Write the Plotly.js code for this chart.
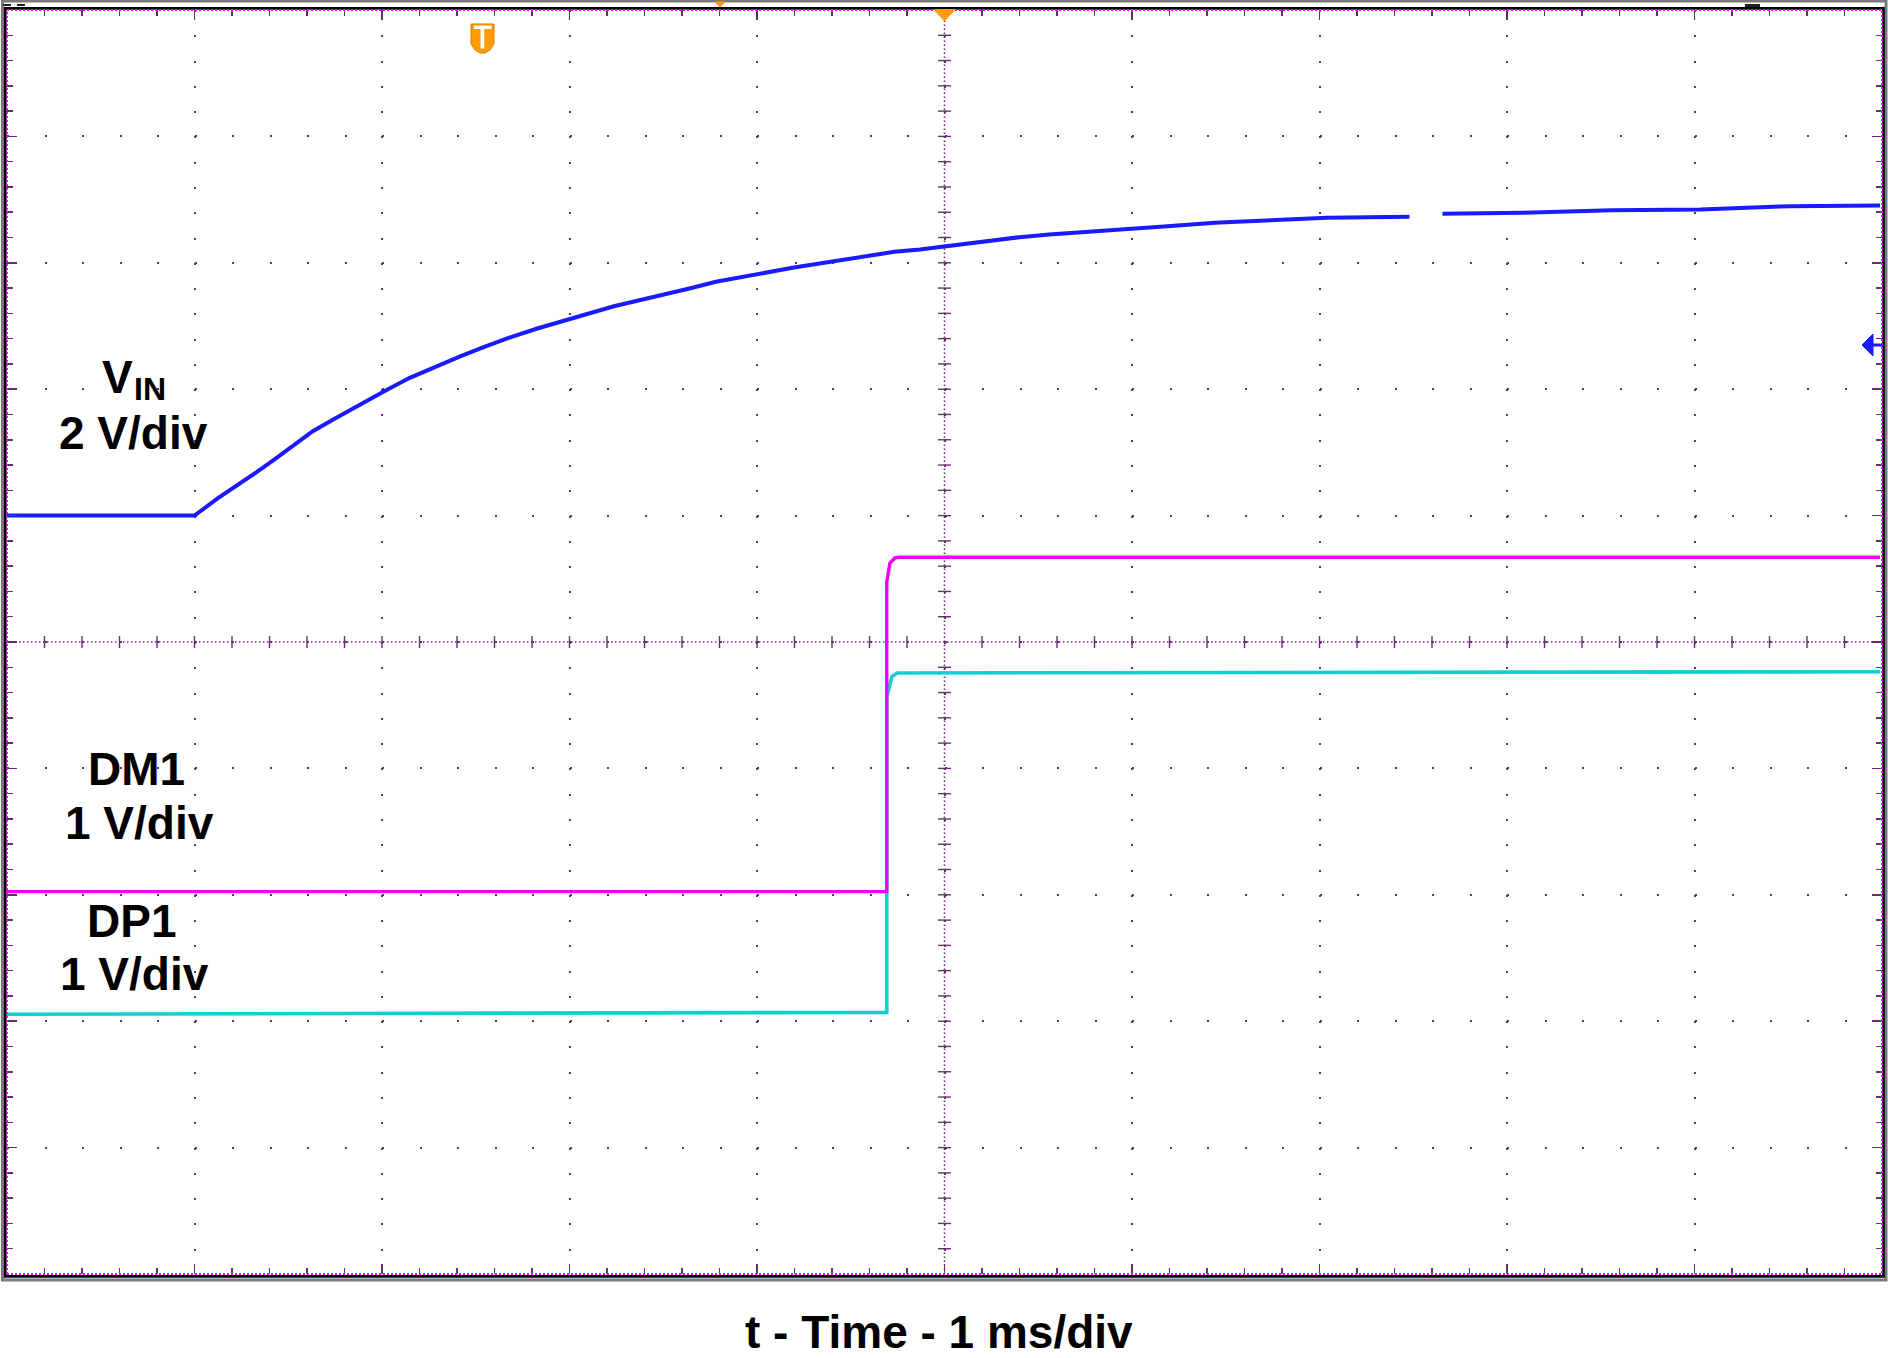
<!DOCTYPE html>
<html>
<head>
<meta charset="utf-8">
<script src="https://cdn.plot.ly/plotly-3.0.1.min.js"></script>
<style>
html,body{margin:0;padding:0;background:#ffffff;}
#chart{width:1888px;height:1358px;}
</style>
</head>
<body>
<div id="chart"></div>
<script>
// ---- data read from the scope capture (time in ms, volts) ----
const vinTime  = [0, 0.5, 1.0, 1.127, 1.222, 1.331, 1.427, 1.535, 1.631, 1.740, 1.849, 2.012, 2.148, 2.284, 2.420, 2.556, 2.692, 2.828, 2.964, 3.101, 3.237, 3.373, 3.509, 3.645, 3.781, 3.917, 4.053, 4.189, 4.325, 4.461, 4.597, 4.733, 4.869, 5.005, 5.242, 5.400, 5.558, 5.715, 5.937, 6.189, 6.441, 6.725, 7.041, 7.480, null, 7.656, 8.083, 8.557, 9.031, 9.510, 9.990];
const vinVolts = [0, 0, 0, 0.28, 0.465, 0.687, 0.888, 1.12, 1.336, 1.52, 1.706, 1.968, 2.18, 2.354, 2.522, 2.68, 2.829, 2.96, 3.076, 3.198, 3.313, 3.408, 3.498, 3.598, 3.699, 3.778, 3.851, 3.921, 3.984, 4.052, 4.12, 4.174, 4.21, 4.263, 4.342, 4.405, 4.448, 4.484, 4.527, 4.579, 4.633, 4.674, 4.712, 4.728, null, 4.775, 4.791, 4.832, 4.843, 4.896, 4.907];

const dm1Time  = [0, 2.3, 4.692, 4.692, 4.709, 4.736, 4.760, 9.990];
const dm1Volts = [0, 0, 0, 2.45, 2.60, 2.64, 2.645, 2.645];

const dp1Time  = [0, 2.2, 4.692, 4.692, 4.701, 4.719, 4.747, 9.990];
const dp1Volts = [0, 0.005, 0.015, 2.51, 2.566, 2.67, 2.70, 2.71];

// channel scales (volts per division) and labels
const vinScale = 2, dm1Scale = 1, dp1Scale = 1;
const timeScale = 1; // ms/div
const labelVin = ['V', 'IN', '2 V/div'];
const labelDm1 = ['DM1', '1 V/div'];
const labelDp1 = ['DP1', '1 V/div'];
const timeTitle = 't - Time - 1 ms/div';

// ---- layout geometry ----
const W = 1888, H = 1358, ML = 7, MR = 6, MT = 10, MB = 84;
const PW = W - ML - MR, PH = H - MT - MB;
const px = x => (x - ML) / PW;
const py = y => (H - MB - y) / PH;
const pathP = pts => pts.map((p, i) => (i ? 'L' : 'M') + px(p[0]).toFixed(5) + ',' + py(p[1]).toFixed(5)).join(' ') + ' Z';

const gridCol = '#6b2d72';
const FONT = 'Liberation Sans, Arial, Helvetica, sans-serif';

// y ranges: 10 divisions, channel zero positions from the capture
const vinRange = [-6 * vinScale, 4 * vinScale];       // 0 V one division above centre
const dm1Range = [-3.025 * dm1Scale, 6.975 * dm1Scale];
const dp1Range = [-2.055 * dp1Scale, 7.945 * dp1Scale];
const vinCentre = (vinRange[0] + vinRange[1]) / 2;
const tCentre = 5 * timeScale;

const traces = [
  {x: vinTime, y: vinVolts, xaxis: 'x', yaxis: 'y', type: 'scatter', mode: 'lines',
   line: {color: '#1a1aff', width: 4}, connectgaps: false, hoverinfo: 'skip', name: 'VIN'},
  {x: dp1Time, y: dp1Volts, xaxis: 'x', yaxis: 'y2', type: 'scatter', mode: 'lines',
   line: {color: '#12cfcf', width: 3.6}, hoverinfo: 'skip', name: 'DP1'},
  {x: dm1Time, y: dm1Volts, xaxis: 'x', yaxis: 'y3', type: 'scatter', mode: 'lines',
   line: {color: '#f000f0', width: 3.4}, hoverinfo: 'skip', name: 'DM1'}
];

const shapes = [];
// outer grey frame and black bezel
shapes.push({type: 'rect', xref: 'paper', yref: 'paper', x0: px(2.5), x1: px(1886), y0: py(1280), y1: py(1),
             line: {color: '#7a7a7a', width: 3}, layer: 'above'});
shapes.push({type: 'rect', xref: 'paper', yref: 'paper', x0: px(5.3), x1: px(1883.5), y0: py(1276.3), y1: py(8.3),
             line: {color: '#000000', width: 2.7}, layer: 'above'});
// magenta dotted graticule border
shapes.push({type: 'rect', xref: 'paper', yref: 'paper', x0: 0, x1: 1, y0: 0, y1: 1,
             line: {color: '#ff00ff', width: 2, dash: '2px,2px'}, layer: 'above'});
// centre lines (dense dotted)
shapes.push({type: 'line', xref: 'x', yref: 'paper', x0: tCentre, x1: tCentre, y0: 0, y1: 1,
             line: {color: gridCol, width: 1.6, dash: '1.5px,2.5px'}, layer: 'below'});
shapes.push({type: 'line', xref: 'paper', yref: 'y', x0: 0, x1: 1, y0: vinCentre, y1: vinCentre,
             line: {color: gridCol, width: 1.6, dash: '1.5px,2.5px'}, layer: 'below'});
// cross ticks on the centre lines every minor division
const halfTx = 6.5 / PW * 10 * timeScale;
const halfTy = 6 / PH * (vinRange[1] - vinRange[0]);
for (let i = 1; i < 50; i++) {
  if (i === 25) continue;
  const yv = vinRange[0] + i * (vinRange[1] - vinRange[0]) / 50;
  shapes.push({type: 'line', xref: 'x', yref: 'y', x0: tCentre - halfTx, x1: tCentre + halfTx, y0: yv, y1: yv,
               line: {color: gridCol, width: 1.4}, layer: 'below'});
  const tv = i * 10 * timeScale / 50;
  shapes.push({type: 'line', xref: 'x', yref: 'y', x0: tv, x1: tv, y0: vinCentre - halfTy, y1: vinCentre + halfTy,
               line: {color: gridCol, width: 1.4}, layer: 'below'});
}
// trigger position marker (orange triangle at top centre)
shapes.push({type: 'path', xref: 'paper', yref: 'paper', path: pathP([[934, 9.5], [955, 9.5], [944.5, 21]]),
             fillcolor: '#ff9c00', line: {color: '#ff9c00', width: 1}, layer: 'above'});
// small markers on the top bezel
shapes.push({type: 'path', xref: 'paper', yref: 'paper', path: pathP([[715, 2], [725, 2], [720, 7]]),
             fillcolor: '#ff9c00', line: {color: '#ff9c00', width: 1}, layer: 'above'});
shapes.push({type: 'rect', xref: 'paper', yref: 'paper', x0: px(1745), x1: px(1760), y0: py(7), y1: py(4),
             fillcolor: '#222', line: {width: 0}, layer: 'above'});
shapes.push({type: 'rect', xref: 'paper', yref: 'paper', x0: px(3), x1: px(11), y0: py(6), y1: py(4),
             fillcolor: '#222', line: {width: 0}, layer: 'above'});
shapes.push({type: 'rect', xref: 'paper', yref: 'paper', x0: px(17), x1: px(25), y0: py(6), y1: py(4),
             fillcolor: '#222', line: {width: 0}, layer: 'above'});
// trigger "T" badge
shapes.push({type: 'path', xref: 'paper', yref: 'paper',
             path: pathP([[471, 24], [494, 24], [494, 44], [490, 50], [485, 53], [480, 53], [475, 50], [471, 44]]),
             fillcolor: '#ff9c00', line: {color: '#e08000', width: 1}, layer: 'above'});
shapes.push({type: 'rect', xref: 'paper', yref: 'paper', x0: px(474), x1: px(491.5), y0: py(29), y1: py(25.5),
             fillcolor: '#ffffff', line: {width: 0}, layer: 'above'});
shapes.push({type: 'rect', xref: 'paper', yref: 'paper', x0: px(480.5), x1: px(484.2), y0: py(48.5), y1: py(28),
             fillcolor: '#ffffff', line: {width: 0}, layer: 'above'});
// blue trigger-level arrow at right
shapes.push({type: 'path', xref: 'paper', yref: 'paper', path: pathP([[1862, 345], [1873, 334], [1873, 356]]),
             fillcolor: '#1a1aff', line: {color: '#1a1aff', width: 1}, layer: 'above'});
shapes.push({type: 'line', xref: 'paper', yref: 'paper', x0: px(1872), x1: px(1883), y0: py(345), y1: py(345),
             line: {color: '#1a1aff', width: 3}, layer: 'above'});

function lab(text, cx, baseline, size) {
  const centre = baseline - 0.3465 * size;
  return {text: text, xref: 'paper', yref: 'paper', x: px(cx), y: py(centre), xanchor: 'center', yanchor: 'middle',
          showarrow: false, borderpad: 0, borderwidth: 0,
          font: {family: FONT, size: size, color: '#000000', weight: 'bold'}};
}
const annotations = [
  lab(labelVin[0], 117.0, 393.3, 46),
  lab(labelVin[1], 150.0, 400.5, 32),
  lab(labelVin[2], 133.7, 449.0, 46),
  lab(labelDm1[0], 136.7, 785, 46),
  lab(labelDm1[1], 139.3, 839, 46),
  lab(labelDp1[0], 131.7, 937.3, 46),
  lab(labelDp1[1], 134.5, 990, 46),
  lab(timeTitle, 939.2, 1347.5, 46)
];

const layout = {
  width: W, height: H,
  margin: {l: ML, r: MR, t: MT, b: MB, pad: 0},
  paper_bgcolor: '#ffffff', plot_bgcolor: '#ffffff',
  showlegend: false,
  xaxis: {range: [0, 10 * timeScale], dtick: timeScale, tick0: 0, showticklabels: false, zeroline: false,
          showgrid: true, gridcolor: gridCol, gridwidth: 2, griddash: '2px,23.28px',
          ticks: 'inside', ticklen: 10, tickwidth: 1.5, tickcolor: gridCol, mirror: 'ticks', showline: false,
          minor: {dtick: timeScale / 5, tick0: 0, ticks: 'inside', ticklen: 6, tickwidth: 1.5, tickcolor: gridCol, showgrid: false},
          fixedrange: true},
  yaxis: {range: vinRange, dtick: vinScale, tick0: 0, showticklabels: false, zeroline: false,
          showgrid: true, gridcolor: gridCol, gridwidth: 2, griddash: '2px,35.5px',
          ticks: 'inside', ticklen: 10, tickwidth: 1.5, tickcolor: gridCol, mirror: 'ticks', showline: false,
          minor: {dtick: vinScale / 5, tick0: 0, ticks: 'inside', ticklen: 6, tickwidth: 1.5, tickcolor: gridCol, showgrid: false},
          fixedrange: true},
  yaxis2: {range: dp1Range, overlaying: 'y', visible: false, fixedrange: true},
  yaxis3: {range: dm1Range, overlaying: 'y', visible: false, fixedrange: true},
  shapes: shapes,
  annotations: annotations
};

Plotly.newPlot('chart', traces, layout, {staticPlot: true, displayModeBar: false});
</script>
</body>
</html>
